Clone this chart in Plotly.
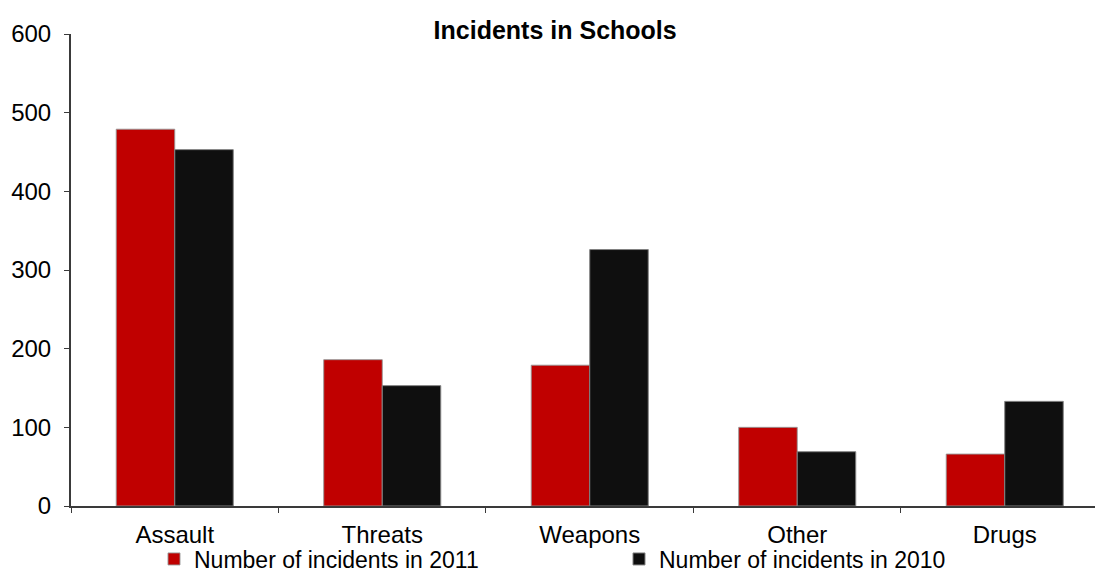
import plotly.graph_objects as go

categories = ["Assault", "Threats", "Weapons", "Other", "Drugs"]
incidents_2011 = [479, 186, 179, 100, 66]
incidents_2010 = [453, 153, 326, 69, 133]
y_ticks = [0, 100, 200, 300, 400, 500, 600]

FONT = "Liberation Sans, Arial, sans-serif"
AXIS_COLOR = "#3a3a3a"

fig = go.Figure()
fig.add_trace(go.Bar(
    x=categories, y=incidents_2011, name="Number of incidents in 2011",
    marker=dict(color="#C00000", line=dict(color="rgba(150,150,150,0.9)", width=1)),
))
fig.add_trace(go.Bar(
    x=categories, y=incidents_2010, name="Number of incidents in 2010",
    marker=dict(color="#0F0F0F", line=dict(color="rgba(130,130,130,1)", width=1)),
))

fig.update_layout(
    width=1095, height=572,
    margin=dict(l=71, r=0, t=34, b=66, autoexpand=False),
    paper_bgcolor="white", plot_bgcolor="white",
    barmode="group", bargap=0.436, bargroupgap=0,
    font=dict(family=FONT, size=24, color="black"),
    title=dict(text="<b>Incidents in Schools</b>", x=0.507, xanchor="center",
               y=1 - 30 / 572, yanchor="middle", yref="container",
               font=dict(family=FONT, size=25, color="black")),
    showlegend=True,
    legend=dict(orientation="h", x=154 / 1095, xanchor="left", xref="container",
                y=(572 - 559) / 572, yanchor="middle", yref="container",
                entrywidth=420, entrywidthmode="pixels", itemwidth=30,
                font=dict(family=FONT, size=23, color="black"),
                bgcolor="rgba(0,0,0,0)", traceorder="normal"),
    xaxis=dict(range=[-0.5, 4.435], type="category", showline=True, linecolor=AXIS_COLOR,
               linewidth=2, ticks="outside", tickson="boundaries", ticklen=5,
               tickcolor=AXIS_COLOR, tickwidth=1, showgrid=False, zeroline=False,
               ticklabelstandoff=6),
    yaxis=dict(range=[0, 600], tickvals=y_ticks, showline=True, linecolor=AXIS_COLOR,
               linewidth=2, ticks="outside", ticklen=5, tickcolor=AXIS_COLOR, tickwidth=1,
               showgrid=False, zeroline=False, ticklabelstandoff=8),
)

fig.write_html("out.html")
